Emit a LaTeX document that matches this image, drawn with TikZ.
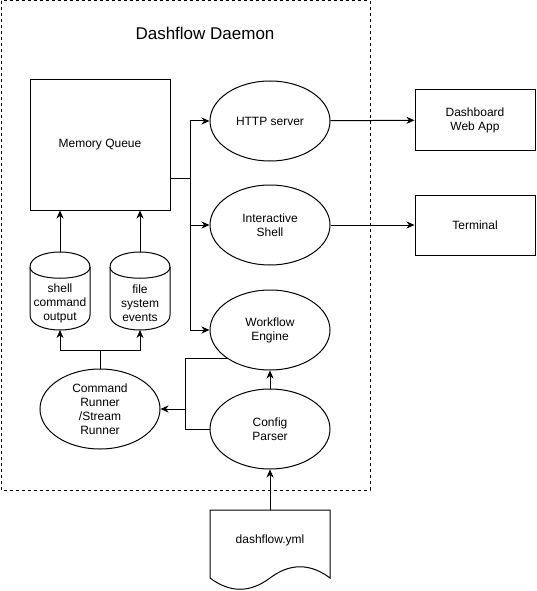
\documentclass[tikz,border=0pt]{standalone}
\usepackage{fontspec}
\setmainfont{Liberation Sans}
\usepackage{tikz}
\usetikzlibrary{arrows.meta, shapes.geometric}

% cylinder outline round a named node
\newcommand{\drum}[1]{%
  \draw ([yshift=-15pt]#1.north west)
      .. controls ([yshift=5pt]#1.north west) and ([yshift=5pt]#1.north east) .. ([yshift=-15pt]#1.north east)
      -- ([yshift=15pt]#1.south east)
      .. controls ([yshift=-5pt]#1.south east) and ([yshift=-5pt]#1.south west) .. ([yshift=15pt]#1.south west)
      -- cycle;
  \draw ([yshift=-15pt]#1.north west)
      .. controls ([yshift=-30pt]#1.north west) and ([yshift=-30pt]#1.north east) .. ([yshift=-15pt]#1.north east);}

\begin{document}
\begin{tikzpicture}[x=1pt, y=-1pt, line width=1pt,
    font=\fontsize{12}{14}\selectfont, align=center,
    box/.style = {draw, minimum width=120pt, minimum height=60pt},
    oval/.style = {draw, ellipse, minimum width=120pt, minimum height=80pt, inner sep=0pt},
    store/.style = {minimum width=60pt, minimum height=78pt, inner sep=0pt, outer sep=0pt},
    arr/.style = {-{Stealth[length=8pt, width=7pt, inset=2.5pt]}}]
    \useasboundingbox (0,0) rectangle (536,591);

    % daemon frame
    \draw [dashed, dash pattern=on 3pt off 3pt] (1,1) rectangle (370,490);
    \node (title) at (205,33) {\fontsize{17}{20}\selectfont Dashflow Daemon};

    \node (mq) [draw, minimum width=140pt, minimum height=130pt] at (100,145) {Memory Queue};
    \node (out) [store, label={[yshift=-12pt]center:shell\\command\\output}] at (60,291) {};
    \node (ev) [store, label={[yshift=-12pt]center:file\\system\\events}] at (140,291) {};
    \drum{out}
    \drum{ev}
    \node (run) [oval] at (100,409) {Command\\Runner\\/Stream\\Runner};

    \node (http) [oval] at (270,121) {HTTP server};
    \node (shell) [oval] at (270,225) {Interactive\\Shell};
    \node (wf) [oval] at (270,330) {Workflow\\Engine};
    \node (cfg) [oval] at (270,429) {Config\\Parser};

    \node (dash) [box] at (475,120) {Dashboard\\Web App};
    \node (term) [box] at (475,225) {Terminal};

    % dashflow.yml document
    \node (yml) [minimum width=120pt, minimum height=60pt] at (270,540) {dashflow.yml};
    \draw (210,578) -- (210,510) -- (330,510) -- (330,578)
        .. controls (310,563) and (290,563) .. (270,578)
        .. controls (250,593) and (230,593) .. (210,578);

    \coordinate (mqout) at (170,178);
    \coordinate (bus) at (190,178);
    \coordinate (split) at (100,350);
    \coordinate (jn) at (185,409);

\draw (mqout) -- (bus);
\draw [arr] (bus) |- (http);
\draw [arr] (bus) |- (shell);
\draw [arr] (bus) |- (wf);
\draw [arr] (run) -- (split) -| (out);
\draw [arr] (split) -| (ev);
\draw [arr] (wf.213) -| (jn) -- (run);
\draw (cfg) -| (jn);

\path [arr]
    (http) edge (dash)
    (shell) edge (term)
    (out) edge (out |- mq.south)
    (ev) edge (ev |- mq.south)
    (cfg) edge (wf)
    (yml.north) edge (cfg);

\end{tikzpicture}
\end{document}
